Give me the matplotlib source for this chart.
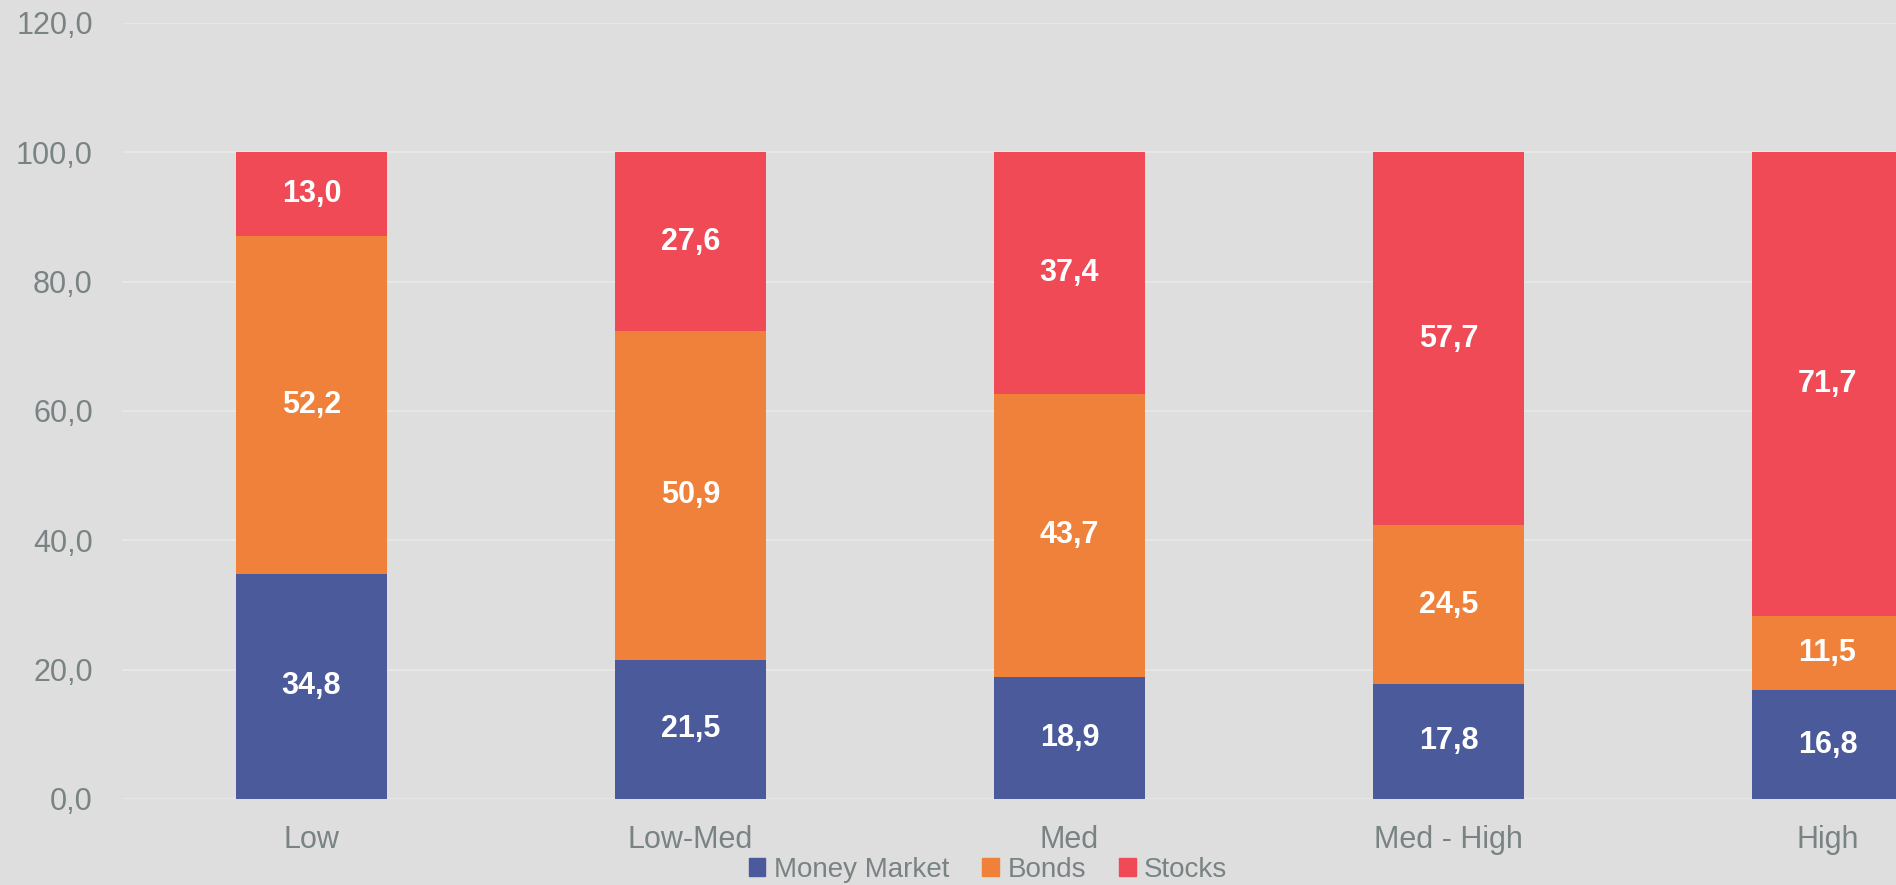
import matplotlib
matplotlib.use("Agg")
import matplotlib.pyplot as plt
from matplotlib.patches import Patch

plt.rcParams['font.family'] = ['Liberation Sans', 'DejaVu Sans']

categories = ["Low", "Low-Med", "Med", "Med - High", "High"]
money_market = [34.8, 21.5, 18.9, 17.8, 16.8]
bonds = [52.2, 50.9, 43.7, 24.5, 11.5]
stocks = [13.0, 27.6, 37.4, 57.7, 71.7]

series = [("Money Market", money_market, "#4a5a9a"),
          ("Bonds", bonds, "#f0813a"),
          ("Stocks", stocks, "#ef4a55")]

bg = "#dedede"
txt = "#7a8384"

fig = plt.figure(figsize=(18.96, 8.85), dpi=100, facecolor=bg)
ax = fig.add_axes([122 / 1896, 86 / 885, 1895 / 1896, 776 / 885])
ax.set_facecolor(bg)

x = list(range(len(categories)))
bottom = [0] * len(categories)
for name, vals, col in series:
    ax.bar(x, vals, 0.4, bottom=bottom, color=col, label=name, zorder=3)
    for xi, b, v in zip(x, bottom, vals):
        ax.text(xi, b + v / 2, f"{v:.1f}".replace(".", ","), ha="center", va="center",
                color="white", fontsize=22, fontweight="bold", zorder=4)
    bottom = [b + v for b, v in zip(bottom, vals)]

ax.set_xlim(-0.5, 4.5)
ax.set_ylim(0, 120)
ax.set_yticks(range(0, 121, 20))
ax.set_yticklabels([f"{t:.1f}".replace(".", ",") for t in range(0, 121, 20)])
ax.set_xticks(x)
ax.set_xticklabels(categories)
ax.tick_params(axis="both", length=0, labelsize=22, labelcolor=txt)
ax.tick_params(axis="y", pad=21)
ax.tick_params(axis="x", pad=19)
ax.grid(axis="y", color="#e6e9e6", linewidth=1.2, zorder=0)
for s in ax.spines.values():
    s.set_visible(False)

handles = [Patch(color=c, label=n) for n, _, c in series]
fig.legend(handles=handles, loc="center", bbox_to_anchor=(988 / 1896, 1 - 870 / 885),
           ncol=3, frameon=False, fontsize=20, handlelength=0.6, handleheight=0.6,
           handletextpad=0.3, columnspacing=1.2, labelcolor=txt)

fig.savefig("out.png", dpi=100, facecolor=bg)
